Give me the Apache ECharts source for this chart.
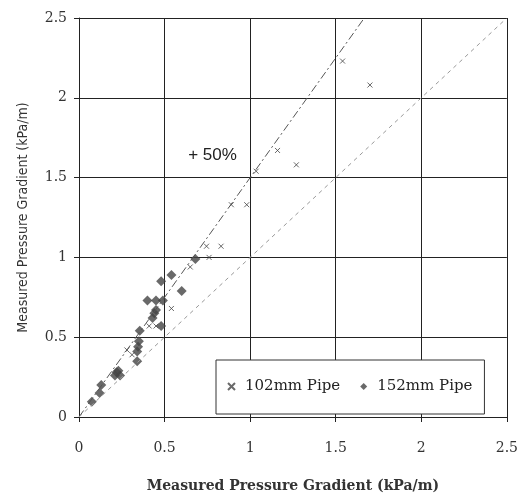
<!DOCTYPE html>
<html>
<head>
<meta charset="utf-8">
<script src="https://cdn.jsdelivr.net/npm/echarts@6/dist/echarts.min.js"></script>
<style>
  html, body { margin: 0; padding: 0; background: #fff; }
  #chart { width: 521px; height: 498px; }
</style>
</head>
<body>
<div id="chart"></div>
<script>
// 102mm pipe points [predicted?, measured]
var pipe102 = [
  [1.54, 2.23], [1.70, 2.08], [1.16, 1.67], [1.27, 1.58], [1.035, 1.54],
  [0.98, 1.33], [0.89, 1.33], [0.83, 1.07], [0.745, 1.07], [0.76, 1.0],
  [0.65, 0.94], [0.54, 0.68], [0.41, 0.57], [0.45, 0.57], [0.31, 0.39],
  [0.28, 0.42]
]
// 152mm pipe points
var pipe152 = [
  [0.68, 0.99], [0.54, 0.89], [0.48, 0.85], [0.60, 0.79], [0.40, 0.73],
  [0.45, 0.73], [0.49, 0.73], [0.45, 0.67], [0.44, 0.65], [0.43, 0.62],
  [0.48, 0.57], [0.355, 0.54], [0.35, 0.475], [0.345, 0.44], [0.34, 0.41],
  [0.34, 0.35], [0.23, 0.29], [0.21, 0.26], [0.24, 0.26], [0.22, 0.28],
  [0.13, 0.20], [0.12, 0.15], [0.075, 0.095]
]
var plus50Line = [[0, 0], [1.667, 2.5]]
var equalLine = [[0, 0], [2.48, 2.48]]

var chart = echarts.init(document.getElementById('chart'))
var crossPath = 'path://M0,0L10,10M10,0L0,10'

chart.setOption({
  backgroundColor: '#fff',
  animation: false,
  grid: { left: 79, right: 12, top: 18, bottom: 79 },
  legend: {
    left: 216,
    top: 360,
    width: 280,
    padding: [19, 12, 20, 11],
    borderColor: '#333',
    borderWidth: 1,
    itemGap: 20,
    itemWidth: 7,
    itemHeight: 7,
    backgroundColor: '#fff',
    textStyle: { fontFamily: 'DejaVu Serif', fontSize: 15, color: '#222', padding: [0, 0, 0, 5] },
    data: ['102mm Pipe', '152mm Pipe']
  },
  xAxis: {
    type: 'value',
    min: 0,
    max: 2.5,
    interval: 0.5,
    name: 'Measured Pressure Gradient (kPa/m)',
    nameLocation: 'middle',
    nameGap: 62,
    nameTextStyle: { fontFamily: 'DejaVu Serif', fontWeight: 'bold', fontSize: 14, color: '#333' },
    axisLine: { lineStyle: { color: '#222' } },
    axisTick: { length: 5, lineStyle: { color: '#222' } },
    axisLabel: { margin: 24, fontFamily: 'DejaVu Serif', fontSize: 14, color: '#333' },
    splitLine: { show: true, lineStyle: { color: '#222', width: 1 } }
  },
  yAxis: {
    type: 'value',
    min: 0,
    max: 2.5,
    interval: 0.5,
    name: 'Measured Pressure Gradient (kPa/m)',
    nameLocation: 'middle',
    nameGap: 49,
    nameTextStyle: { fontFamily: 'Liberation Sans Narrow, DejaVu Sans Condensed, Liberation Sans', fontSize: 14, color: '#333' },
    axisLine: { lineStyle: { color: '#222' } },
    axisTick: { length: 5, lineStyle: { color: '#222' } },
    axisLabel: { margin: 12, fontFamily: 'DejaVu Serif', fontSize: 14, color: '#333' },
    splitLine: { show: true, lineStyle: { color: '#222', width: 1 } }
  },
  series: [
    {
      name: '+50% line',
      type: 'line',
      data: plus50Line,
      symbol: 'none',
      silent: true,
      lineStyle: { color: '#555', width: 1, type: [8, 3, 2, 3] },
      markPoint: {
        symbol: 'rect',
        symbolSize: 0,
        label: {
          show: true,
          formatter: '+ 50%',
          fontFamily: 'Liberation Sans',
          fontSize: 17,
          color: '#222'
        },
        data: [{ coord: [0.78, 1.64] }]
      }
    },
    {
      name: '1:1 line',
      type: 'line',
      data: equalLine,
      symbol: 'none',
      silent: true,
      lineStyle: { color: '#999', width: 1, type: [4, 4] }
    },
    {
      name: '102mm Pipe',
      type: 'scatter',
      data: pipe102,
      symbol: crossPath,
      symbolSize: 5,
      itemStyle: { color: 'transparent', borderColor: '#444', borderWidth: 1 }
    },
    {
      name: '152mm Pipe',
      type: 'scatter',
      data: pipe152,
      symbol: 'diamond',
      symbolSize: 10,
      itemStyle: { color: '#444' }
    }
  ]
})
</script>
</body>
</html>
